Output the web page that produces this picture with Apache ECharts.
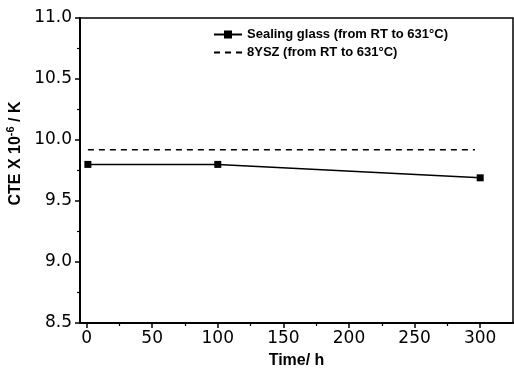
<!DOCTYPE html>
<html><head><meta charset="utf-8">
<script src="https://cdn.jsdelivr.net/npm/echarts@6/dist/echarts.min.js"></script>
<style>html,body{margin:0;padding:0;background:#fff}#c{width:514px;height:370px}</style>
</head><body><div id="c"></div>
<script>
const sealingTime = [1, 100, 300];
const sealingCTE = [9.80, 9.80, 9.69];
const ysz8Time = [1, 296];
const ysz8CTE = [9.92, 9.92];
const xTicks = [0, 50, 100, 150, 200, 250, 300];
const xMinorTicks = [25, 75, 125, 175, 225, 275];
const seriesNames = ['Sealing glass (from RT to 631°C)', '8YSZ (from RT to 631°C)'];

const font = 'Liberation Sans, Arial, sans-serif';
const numFont = 'DejaVu Sans, sans-serif';
const chart = echarts.init(document.getElementById('c'));
chart.setOption({
  animation: false,
  backgroundColor: '#fff',
  grid: { left: 80, right: 1, top: 18, bottom: 47, outerBoundsMode: 'none', containLabel: false,
    show: true, borderColor: '#000', borderWidth: 1.5 },
  legend: {
    orient: 'vertical', left: 208, top: 23, itemGap: 5, itemWidth: 28, itemHeight: 10,
    textStyle: { fontFamily: font, fontWeight: 'bold', fontSize: 13, color: '#000' },
    data: seriesNames
  },
  xAxis: [{
    type: 'value', min: -5, max: 325,
    name: 'Time/ h', nameLocation: 'middle', nameGap: 30,
    nameTextStyle: { fontFamily: font, fontWeight: 'bold', fontSize: 16, color: '#000' },
    axisLine: { onZero: false, lineStyle: { color: '#000', width: 2 } },
    axisTick: { show: true, length: 5, inside: false, customValues: xTicks, lineStyle: { color: '#000', width: 1.5 } },
    axisLabel: { customValues: xTicks, fontFamily: numFont, fontSize: 17, color: '#000', margin: 7 },
    splitLine: { show: false }
  }, {
    type: 'value', min: -5, max: 325, position: 'bottom',
    axisLine: { show: false, onZero: false },
    axisTick: { show: true, length: 3, customValues: xMinorTicks, lineStyle: { color: '#000', width: 1.2 } },
    axisLabel: { show: false, customValues: xMinorTicks },
    splitLine: { show: false }
  }],
  yAxis: {
    type: 'value', min: 8.5, max: 11.0, interval: 0.5,
    name: 'CTE X 10{sup|-6} / K', nameLocation: 'middle', nameGap: 52,
    nameTextStyle: { fontFamily: font, fontWeight: 'bold', fontSize: 16, color: '#000', padding: [0, 0, 0, 34],
      rich: { sup: { fontFamily: font, fontWeight: 'bold', fontSize: 11, color: '#000', verticalAlign: 'top', padding: [0, 0, 9, 0] } } },
    axisLine: { show: true, onZero: false, lineStyle: { color: '#000', width: 2 } },
    axisTick: { show: true, length: 5, lineStyle: { color: '#000', width: 1.5 } },
    minorTick: { show: true, splitNumber: 2, length: 3, lineStyle: { color: '#000', width: 1.2 } },
    axisLabel: { fontFamily: numFont, fontSize: 17, color: '#000', margin: 8, formatter: v => v.toFixed(1) },
    splitLine: { show: false }
  },
  series: [{
    name: seriesNames[0], type: 'line',
    data: sealingTime.map((t, i) => [t, sealingCTE[i]]),
    symbol: 'rect', symbolSize: 7, showSymbol: true,
    itemStyle: { color: '#000' }, lineStyle: { color: '#000', width: 1.5 }
  }, {
    name: seriesNames[1], type: 'line',
    data: ysz8Time.map((t, i) => [t, ysz8CTE[i]]),
    symbol: 'none',
    itemStyle: { color: 'rgba(0,0,0,0)', borderWidth: 0 }, lineStyle: { color: '#000', width: 1.5, type: [6, 5] }
  }]
});
</script></body></html>
